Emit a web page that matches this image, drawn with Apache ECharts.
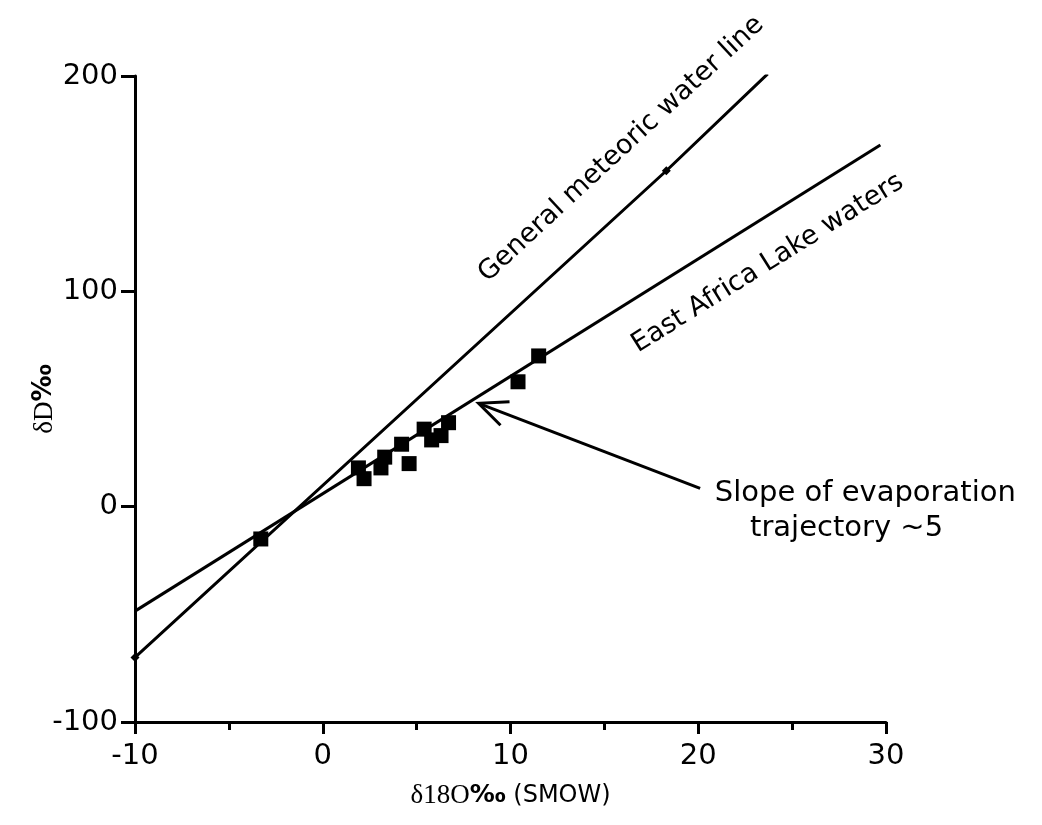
<!DOCTYPE html>
<html>
<head>
<meta charset="utf-8">
<script src="https://cdn.jsdelivr.net/npm/echarts@6/dist/echarts.min.js"></script>
<style>
  html, body { margin: 0; padding: 0; background: #fff; }
  #chart { width: 1042px; height: 825px; }
</style>
</head>
<body>
<div id="chart"></div>
<script>
// lake water samples (d18O, dD)
var sampleO = [-3.3, 1.9, 2.2, 3.1, 3.3, 4.2, 4.6, 5.4, 5.8, 6.3, 6.7, 10.4, 11.5];
var sampleD = [-15, 18, 13, 18, 23, 29, 20, 36, 31, 33, 39, 58, 70];

// general meteoric water line (ends + marked point)
var gmwlO = [-10, 18.3, 23.7];
var gmwlD = [-70, 156, 201];

// east africa lake waters line
var ealO = [-10, 29.7];
var ealD = [-48.5, 168];

// arrow: tail -> head
var arrowFrom = [20.1, 8.5];
var arrowTo = [8.3, 48];

var xTicks = [-10, 30, 10];
var yTicks = [-100, 200, 100];

var sans = 'DejaVu Sans, Arial, sans-serif';
var serif = 'Liberation Serif, Times New Roman, serif';

var zip = function(a, b){
	return a.map(function(v, i){ return [v, b[i]]; });
};

var chart = echarts.init(document.getElementById('chart'));

chart.setOption({
	animation: false,
	grid: { left: 135, right: 156, top: 76, bottom: 103, containLabel: false },
	xAxis: {
		type: 'value',
		min: xTicks[0], max: xTicks[1], interval: xTicks[2],
		axisLine: { onZero: false, lineStyle: { color: '#000', width: 3 } },
		axisTick: { length: 12, lineStyle: { color: '#000', width: 3 } },
		minorTick: { show: true, splitNumber: 2, length: 8, lineStyle: { color: '#000', width: 3 } },
		splitLine: { show: false },
		axisLabel: { color: '#000', fontSize: 29, fontFamily: sans, margin: 20 },
		name: '{s|δ18O}{b|‰}{n| (SMOW)}',
		nameLocation: 'middle',
		nameGap: 60,
		nameTextStyle: {
			rich: {
				s: { fontFamily: serif, fontSize: 27, color: '#000' },
				b: { fontFamily: sans, fontSize: 25, fontWeight: 'bold', color: '#000' },
				n: { fontFamily: sans, fontSize: 24, color: '#000' }
			}
		}
	},
	yAxis: {
		type: 'value',
		min: yTicks[0], max: yTicks[1], interval: yTicks[2],
		axisLine: { onZero: false, lineStyle: { color: '#000', width: 3 } },
		axisTick: { length: 14, lineStyle: { color: '#000', width: 3 } },
		splitLine: { show: false },
		axisLabel: { color: '#000', fontSize: 29, fontFamily: sans, margin: 17 },
		name: '{s|δD}{b|‰}',
		nameLocation: 'middle',
		nameRotate: 90,
		nameGap: 77,
		nameMoveOverlap: false,
		nameTextStyle: {
			rich: {
				s: { fontFamily: serif, fontSize: 27, color: '#000' },
				b: { fontFamily: sans, fontSize: 26, fontWeight: 'bold', color: '#000' }
			}
		}
	},
	series: [
		{
			name: 'General meteoric water line',
			type: 'line',
			data: zip(gmwlO, gmwlD),
			symbol: 'diamond',
			symbolSize: function(v, p){ return p.dataIndex < 2 ? 9 : 0; },
			itemStyle: { color: '#000' },
			lineStyle: { color: '#000', width: 3 },
			z: 3
		},
		{
			name: 'East Africa Lake waters',
			type: 'line',
			data: zip(ealO, ealD),
			symbol: 'none',
			lineStyle: { color: '#000', width: 3 },
			z: 3
		},
		{
			name: 'samples',
			type: 'scatter',
			data: zip(sampleO, sampleD),
			symbol: 'rect',
			symbolSize: 15,
			itemStyle: { color: '#000', opacity: 1 },
			z: 4
		},
		{
			name: 'arrow',
			type: 'custom',
			data: [[arrowFrom[0], arrowFrom[1], arrowTo[0], arrowTo[1]]],
			renderItem: function(params, api){
				var a = api.coord([api.value(0), api.value(1)]);
				var b = api.coord([api.value(2), api.value(3)]);
				var ang = Math.atan2(a[1] - b[1], a[0] - b[0]);
				var len = 31, spread = 24 * Math.PI / 180;
				var p1 = [b[0] + len * Math.cos(ang - spread), b[1] + len * Math.sin(ang - spread)];
				var p2 = [b[0] + len * Math.cos(ang + spread), b[1] + len * Math.sin(ang + spread)];
				var st = { stroke: '#000', lineWidth: 3, fill: null };
				return {
					type: 'group',
					children: [
						{ type: 'line', shape: { x1: a[0], y1: a[1], x2: b[0], y2: b[1] }, style: st },
						{ type: 'polyline', shape: { points: [p1, b, p2] }, style: st }
					]
				};
			},
			z: 3
		},
		{
			name: 'notes',
			type: 'scatter',
			symbolSize: 0,
			silent: true,
			itemStyle: { opacity: 1 },
			data: [
				{ value: [15.9, 166], label: { formatter: 'General meteoric water line', rotate: 42.8, fontSize: 27 } },
				{ value: [23.7, 113], label: { formatter: 'East Africa Lake waters', rotate: 32, fontSize: 27 } },
				{ value: [28.9, 6], label: { formatter: 'Slope of evaporation' } },
				{ value: [27.9, -10.3], label: { formatter: 'trajectory ~5' } }
			],
			label: {
				show: true,
				position: 'inside',
				color: '#000',
				opacity: 1,
				fontSize: 29,
				fontFamily: sans
			}
		}
	]
});
</script>
</body>
</html>
